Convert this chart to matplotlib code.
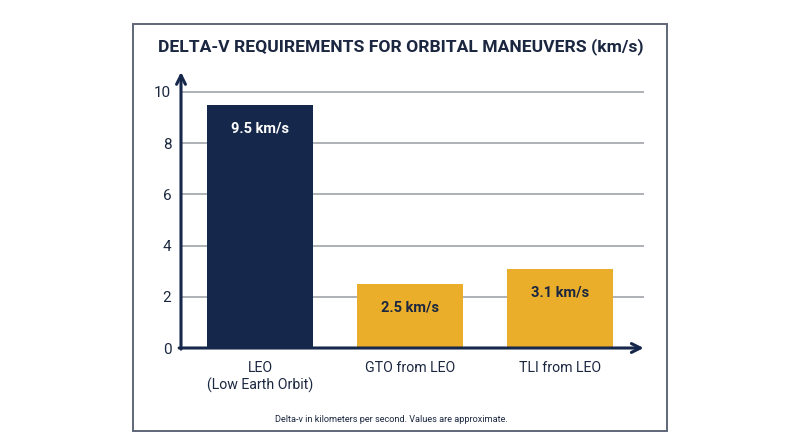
import matplotlib
matplotlib.use("Agg")
import matplotlib.pyplot as plt
from matplotlib.patches import Rectangle

categories = ["LEO\n(Low Earth Orbit)", "GTO from LEO", "TLI from LEO"]
values = [9.5, 2.5, 3.1]
value_labels = ["9.5 km/s", "2.5 km/s", "3.1 km/s"]
yticks = [0, 2, 4, 6, 8, 10]

NAVY = "#15284b"
GOLD = "#ebae2a"
TEXT = "#1b2740"
GRID = "#9fa3a9"
FRAME = "#5e6678"

plt.rcParams['font.family'] = ['Roboto', 'DejaVu Sans']

W, H = 800, 447
fig = plt.figure(figsize=(8, 4.47), dpi=100)
fig.patch.set_facecolor("white")

# outer frame
fig.add_artist(Rectangle((133 / W, 1 - 431 / H), (667 - 133) / W, (431 - 24) / H,
                         transform=fig.transFigure, fill=False, edgecolor=FRAME, lw=1.4))

ax_l, ax_r, ax_b, ax_t = 181, 643.7, 348, 72
ax = fig.add_axes([ax_l / W, 1 - ax_b / H, (ax_r - ax_l) / W, (ax_b - ax_t) / H])
ax.set_facecolor("none")

colors = [NAVY, GOLD, GOLD]
xs = list(range(len(values)))
ax.bar(xs, values, width=0.707, color=colors, zorder=2)

ax.set_xlim(-0.527, 2.558)
ax.set_ylim(0, 10.78)

for y in yticks[1:]:
    ax.axhline(y, color=GRID, lw=1.2, zorder=1)

for s in ax.spines.values():
    s.set_visible(False)

ax.set_yticks(yticks)
ax.set_yticklabels([str(t) for t in yticks], fontsize=11, color=TEXT)
ax.tick_params(axis='y', length=0, pad=7)
ax.set_xticks(xs)
ax.set_xticklabels(categories, fontsize=10.2, color=TEXT, linespacing=1.3)
ax.tick_params(axis='x', length=0, pad=9)

# axis arrows
ax.annotate('', xy=(0, 1), xycoords='axes fraction', xytext=(0, -0.004),
            textcoords='axes fraction',
            arrowprops=dict(arrowstyle='->', lw=2.2, color=NAVY, mutation_scale=16,
                            shrinkA=0, shrinkB=0), zorder=5)
ax.annotate('', xy=(1, 0), xycoords='axes fraction', xytext=(-0.004, 0),
            textcoords='axes fraction',
            arrowprops=dict(arrowstyle='->', lw=2.2, color=NAVY, mutation_scale=16,
                            shrinkA=0, shrinkB=0), zorder=5)

# value labels inside bars
label_colors = ["white", TEXT, TEXT]
for x, v, lab, c in zip(xs, values, value_labels, label_colors):
    ax.annotate(lab, xy=(x, v), xytext=(0, -17), textcoords='offset points',
                ha='center', va='center', fontsize=10.5, fontweight='bold', color=c,
                zorder=4)

fig.text(401 / W, 1 - 47 / H, "DELTA-V REQUIREMENTS FOR ORBITAL MANEUVERS (km/s)",
         ha='center', va='center', fontsize=12.6, fontweight='bold', color=TEXT)
fig.text(391 / W, 1 - 419 / H, "Delta-v in kilometers per second. Values are approximate.",
         ha='center', va='center', fontsize=6.6, color=TEXT)

fig.savefig("out.png", dpi=100, facecolor="white")
